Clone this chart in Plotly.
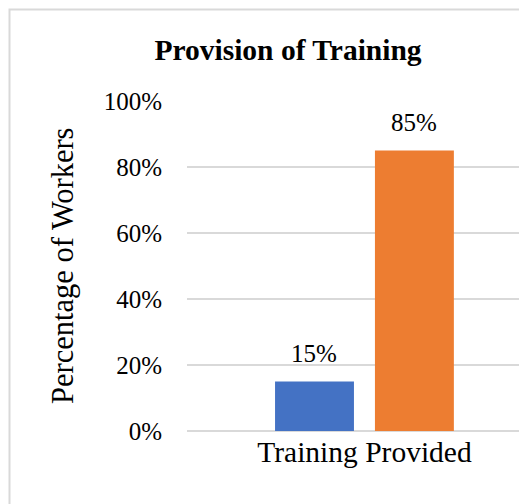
import plotly.graph_objects as go

categories = ["Training Provided"]
series_names = ["No", "Yes"]
series_values = [[15], [85]]
series_colors = ["#4472C4", "#ED7D31"]
y_ticks = [0, 20, 40, 60, 80, 100]
y_tick_labels = ["0%", "20%", "40%", "60%", "80%", "100%"]

FONT = "Liberation Serif"

fig = go.Figure()
for name, vals, col in zip(series_names, series_values, series_colors):
    fig.add_trace(go.Bar(x=categories, y=vals, name=name, marker=dict(color=col, line=dict(width=0)),
                         showlegend=False))

shifts = [-50, 50]
annotations = []
for vals, xs in zip(series_values, shifts):
    for c, v in zip(categories, vals):
        annotations.append(dict(x=c, y=v, xref="x", yref="y", text=f"{v}%", showarrow=False,
                                xshift=xs, yshift=13, yanchor="bottom",
                                font=dict(family=FONT, size=25, color="black")))
annotations.append(dict(x=-0.3647, y=0.5, xref="paper", yref="paper", text="Percentage of Workers",
                        textangle=-90, showarrow=False, xanchor="center", yanchor="middle",
                        font=dict(family=FONT, size=30.5, color="black")))

fig.update_layout(
    width=519, height=496,
    margin=dict(l=179, r=0, t=93, b=73, pad=0),
    paper_bgcolor="white", plot_bgcolor="white",
    barmode="group", bargap=0.437, bargroupgap=0.21,
    title=dict(text="<b>Provision of Training</b>", xref="container", yref="container",
               x=280 / 519, y=1 - 42 / 496, xanchor="center", yanchor="middle",
               font=dict(family=FONT, size=29.5, color="black")),
    annotations=annotations,
    shapes=[dict(type="rect", xref="paper", yref="paper",
                 x0=(1.5 - 179) / 340, x1=1.2, y0=-0.5, y1=1 + (93 - 1.5) / 330,
                 line=dict(color="#D9D9D9", width=2), layer="below")],
)
fig.update_xaxes(range=[-0.5, 0.458], showgrid=False, showline=False, zeroline=False,
                 ticks="", tickfont=dict(family=FONT, size=29.5, color="black"))
fig.update_yaxes(range=[0, 100], tickvals=y_ticks, ticktext=y_tick_labels, showgrid=True,
                 gridcolor="#D9D9D9", gridwidth=1.5, zeroline=True, zerolinecolor="#D9D9D9",
                 zerolinewidth=1.5, showline=False, ticks="", ticklabelstandoff=24,
                 tickfont=dict(family=FONT, size=25, color="black"))

fig.write_html("out.html")
